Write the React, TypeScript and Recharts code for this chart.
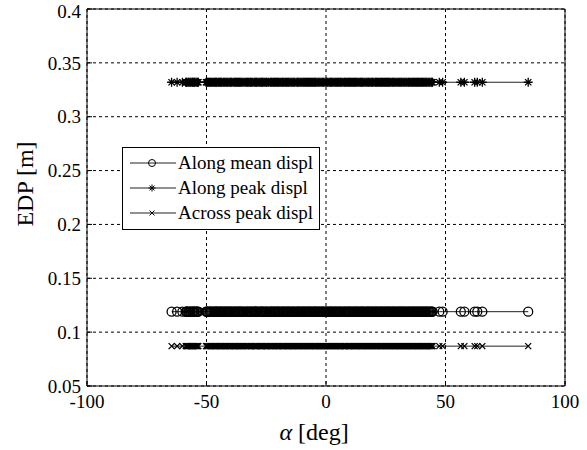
import { CartesianGrid, Legend, Line, LineChart, ReferenceLine, XAxis, YAxis } from "recharts";

// incidence angle of each record [deg]
const angles = [
  -64.6, -62.3, -60.1,
  -58.7, -58.2, -57.4, -56.9, -56.1, -55.5, -54.9, -54.0, -53.4,
  -50.2, -49.6, -48.7, -48.0, -47.1, -46.3, -45.8, -44.9, -44.1, -43.5, -42.6, -41.8,
  -41.1, -40.2, -39.6, -38.5, -37.9, -37.0, -36.2, -35.5, -34.7, -33.6, -32.8, -31.9,
  -31.2, -30.1, -29.4, -28.8, -27.7, -26.9, -26.3, -25.2, -24.6, -23.4, -22.8, -21.9,
  -21.1, -20.3, -19.6, -18.5, -17.9, -17.0, -16.2, -15.5, -14.6, -13.8, -13.1, -12.0,
  -11.4, -10.5, -9.7, -9.0, -8.1, -7.3, -6.6, -5.7, -4.8, -4.2, -3.3, -2.5, -1.6, -0.9,
  0.1, 0.8, 1.7, 2.4, 3.3, 4.1, 4.9, 5.8, 6.4, 7.5, 8.2, 9.1, 9.8, 10.6, 11.5, 12.3,
  13.0, 13.9, 14.8, 15.4, 16.3, 17.2, 17.9, 18.8, 19.5, 20.5, 21.2, 22.0, 22.9, 23.6,
  24.5, 25.3, 26.1, 26.8, 27.8, 28.5, 29.3, 30.2, 31.0, 31.7, 32.6, 33.4, 34.3, 35.0,
  35.9, 36.6, 37.5, 38.3, 39.0, 39.9, 40.7, 41.5, 42.2, 43.1, 44.0, 44.6,
  47.4, 48.8, 56.4, 57.9, 62.2, 63.3, 65.4, 84.6,
];

// more records inside the dense band [deg]
const moreAngles = [
  -58.4, -57.7, -56.6, -55.8, -55.1, -54.4, -53.7, -49.9, -49.2, -48.4, -47.6, -46.7,
  -46.0, -45.3, -44.5, -43.8, -42.9, -42.2, -41.4, -40.6, -39.9, -39.0, -38.2, -37.4,
  -36.6, -35.9, -35.1, -34.2, -33.2, -32.4, -31.5, -30.7, -29.8, -29.1, -28.2, -27.3,
  -26.6, -25.8, -24.9, -24.0, -23.1, -22.3, -21.5, -20.7, -19.9, -19.1, -18.2, -17.5,
  -16.6, -15.8, -15.0, -14.2, -13.4, -12.5, -11.7, -10.9, -10.1, -9.3, -8.5, -7.7,
  -6.9, -6.1, -5.2, -4.5, -3.7, -2.9, -2.0, -1.2, -0.4, 0.4, 1.3, 2.0, 2.8, 3.7, 4.5,
  5.3, 6.1, 7.0, 7.8, 8.6, 9.5, 10.2, 11.1, 11.9, 12.7, 13.5, 14.4, 15.1, 15.9, 16.8,
  17.6, 18.3, 19.2, 20.0, 20.8, 21.6, 22.5, 23.2, 24.1, 24.9, 25.7, 26.5, 27.3, 28.1,
  28.9, 29.8, 30.6, 31.4, 32.2, 33.0, 33.8, 34.6, 35.5, 36.3, 37.1, 37.9, 38.7, 39.5,
  40.3, 41.1, 41.9, 42.7, 43.5, 44.3,
];

// EDP level of each series [m] (flat over the angle)
const alongMeanEdp = 0.119;
const alongPeakEdp = 0.332;
const acrossPeakEdp = 0.087;

const seriesNames = ["Along mean displ", "Along peak displ", "Across peak displ"];
const xTicks = [-100, -50, 0, 50, 100];
const yTicks = [0.05, 0.1, 0.15, 0.2, 0.25, 0.3, 0.35, 0.4];

const rows = [...angles, ...moreAngles]
  .sort((a, b) => a - b)
  .map((angle) => ({
    angle,
    mean: alongMeanEdp,
    peak: alongPeakEdp,
    across: acrossPeakEdp,
  }));

const FONT = '"Times New Roman", Times, "Liberation Serif", serif';
const INK = "#000";
const LINE = "#222";
const MARK_W = 1.3;

function CircleMark({ cx, cy, r = 4.5, w = MARK_W }: { cx: number; cy: number; r?: number; w?: number }) {
  return <circle cx={cx} cy={cy} r={r} fill="none" stroke={INK} strokeWidth={w} />;
}

function StarMark({ cx, cy, s = 4.5, w = MARK_W }: { cx: number; cy: number; s?: number; w?: number }) {
  const d = s * 0.7;
  return (
    <path
      d={`M${cx - s},${cy}H${cx + s}M${cx},${cy - s}V${cy + s}M${cx - d},${cy - d}L${cx + d},${cy + d}M${cx - d},${cy + d}L${cx + d},${cy - d}`}
      stroke={INK}
      strokeWidth={w}
      fill="none"
    />
  );
}

function CrossMark({ cx, cy, s = 3, w = MARK_W }: { cx: number; cy: number; s?: number; w?: number }) {
  return (
    <path
      d={`M${cx - s},${cy - s}L${cx + s},${cy + s}M${cx - s},${cy + s}L${cx + s},${cy - s}`}
      stroke={INK}
      strokeWidth={w}
      fill="none"
    />
  );
}

const markers = [CircleMark, StarMark, CrossMark];

function LegendBox() {
  return (
    <div
      style={{
        border: "1px solid #000",
        background: "#fff",
        padding: "2px 6px 4px 7px",
        fontFamily: FONT,
        fontSize: 19,
        color: INK,
        lineHeight: "25px",
        whiteSpace: "nowrap",
      }}
    >
      {seriesNames.map((name, i) => {
        const Mark = markers[i];
        return (
          <div key={name} style={{ display: "flex", alignItems: "center", height: 25 }}>
            <svg width={46} height={12} style={{ marginRight: 2 }}>
              <line x1={0} y1={6} x2={46} y2={6} stroke={LINE} strokeWidth={1} />
              <Mark cx={22} cy={6} w={1} {...(i === 0 ? { r: 3.5 } : { s: i === 1 ? 3.5 : 2.5 })} />
            </svg>
            <span>{name}</span>
          </div>
        );
      })}
    </div>
  );
}

export default function App() {
  const tickStyle = { fontSize: 19, fill: INK, fontFamily: FONT };
  return (
    <div
      style={{
        position: "absolute",
        left: 0,
        top: 0,
        width: 587,
        height: 450,
        background: "#fff",
        fontFamily: FONT,
      }}
    >
      <LineChart width={587} height={450} data={rows} margin={{ top: 9, right: 22, bottom: 0, left: 0 }}>
        <CartesianGrid stroke={INK} strokeDasharray="3 3" strokeWidth={1} />
        <XAxis
          type="number"
          dataKey="angle"
          domain={[-100, 100]}
          ticks={xTicks}
          allowDataOverflow
          height={64}
          tick={tickStyle}
          tickSize={-5}
          tickMargin={14}
          tickLine={{ stroke: INK }}
          axisLine={{ stroke: INK }}
          label={{
            content: () => (
              <text x={314} y={440} textAnchor="middle" fontFamily={FONT} fontSize={24} fill={INK}>
                <tspan fontStyle="italic">α</tspan> [deg]
              </text>
            ),
          }}
        />
        <YAxis
          type="number"
          domain={[0.05, 0.4]}
          ticks={yTicks}
          allowDataOverflow
          width={87}
          tick={tickStyle}
          tickFormatter={(v: number) => String(v)}
          tickSize={-5}
          tickMargin={11}
          tickLine={{ stroke: INK }}
          axisLine={{ stroke: INK }}
          label={{
            content: () => (
              <text
                x={27}
                y={184}
                textAnchor="middle"
                dominantBaseline="middle"
                transform="rotate(-90 27 184)"
                fontFamily={FONT}
                fontSize={24}
                fill={INK}
              >
                EDP [m]
              </text>
            ),
          }}
        />
        <ReferenceLine y={0.4} stroke={INK} strokeWidth={1} />
        <ReferenceLine x={100} stroke={INK} strokeWidth={1} />
        <Legend
          layout="vertical"
          align="center"
          verticalAlign="middle"
          content={() => <LegendBox />}
          wrapperStyle={{ left: 122, top: 147, width: "auto", right: "auto", bottom: "auto" }}
        />
        <Line
          dataKey="mean"
          name={seriesNames[0]}
          stroke={LINE}
          strokeWidth={1}
          isAnimationActive={false}
          dot={(p: any) => <CircleMark key={`m${p.index}`} cx={p.cx} cy={p.cy} />}
          activeDot={false}
        />
        <Line
          dataKey="peak"
          name={seriesNames[1]}
          stroke={LINE}
          strokeWidth={1}
          isAnimationActive={false}
          dot={(p: any) => <StarMark key={`p${p.index}`} cx={p.cx} cy={p.cy} />}
          activeDot={false}
        />
        <Line
          dataKey="across"
          name={seriesNames[2]}
          stroke={LINE}
          strokeWidth={1}
          isAnimationActive={false}
          dot={(p: any) => <CrossMark key={`a${p.index}`} cx={p.cx} cy={p.cy} />}
          activeDot={false}
        />
      </LineChart>
    </div>
  );
}
